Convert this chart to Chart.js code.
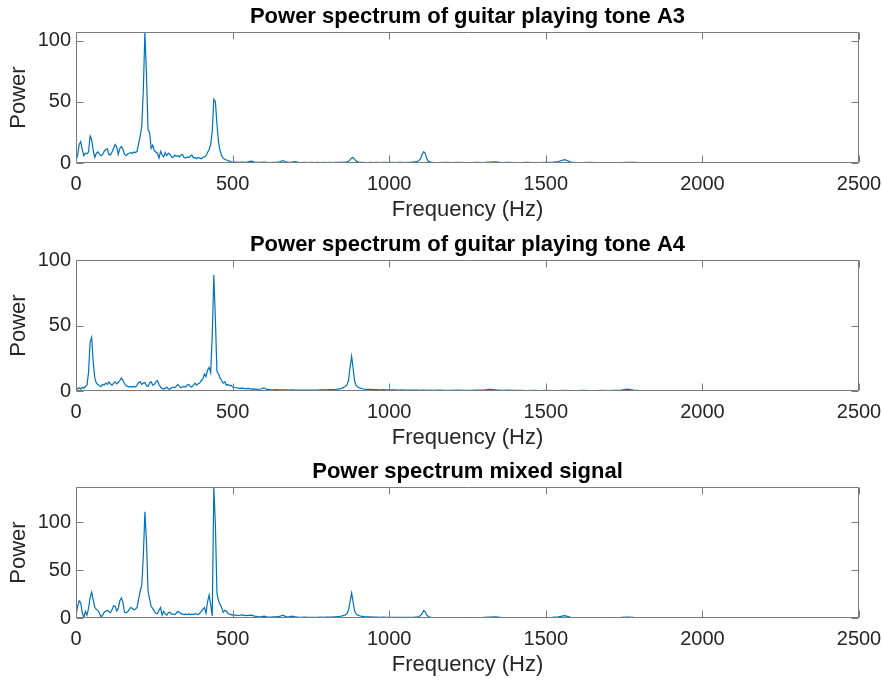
<!DOCTYPE html>
<html>
<head>
<meta charset="utf-8">
<title>Power spectra</title>
<script src="https://cdn.jsdelivr.net/npm/chart.js@4.4.1/dist/chart.umd.min.js"></script>
<style>
  html, body { margin: 0; padding: 0; background: #ffffff; overflow: hidden; }
  #fig { position: relative; width: 883px; height: 681px; }
  .panel { position: absolute; left: 0; width: 883px; height: 228px; }
  .panel canvas { display: block; }
</style>
</head>
<body>
<div id="fig">
  <div class="panel" style="top:0px"><canvas id="specA3" width="883" height="228"></canvas></div>
  <div class="panel" style="top:228px"><canvas id="specA4" width="883" height="228"></canvas></div>
  <div class="panel" style="top:455px"><canvas id="specMix" width="883" height="228"></canvas></div>
</div>
<script>
// Frequency bins (Hz) shared by the three spectra
const freqHz = [
  0,5,10,15,20,25,30,35,40,45,
  50,55,60,65,70,75,80,85,90,95,
  100,105,110,115,120,125,130,135,140,145,
  150,155,160,165,170,175,180,185,190,195,
  200,205,210,215,220,225,230,235,240,245,
  250,255,260,265,270,275,280,285,290,295,
  300,305,310,315,320,325,330,335,340,345,
  350,355,360,365,370,375,380,385,390,395,
  400,405,410,415,420,425,430,435,440,445,
  450,455,460,465,470,475,480,485,490,495,
  500,
  510,520,530,540,550,560,570,580,590,600,
  610,620,630,640,650,660,670,680,690,700,
  710,720,730,740,750,760,770,780,790,800,
  810,820,830,840,
  845,850,855,860,865,870,875,880,885,890,895,900,905,910,915,920,
  930,940,950,960,970,980,990,1000,1010,1020,1030,1040,1050,1060,1070,1080,
  1085,1090,1095,1100,1105,1110,1115,1120,1125,1130,1135,
  1140,1160,1180,1200,1220,1240,1260,1280,1300,1320,
  1340,1360,1380,1400,1420,1440,1460,1480,1500,1520,
  1540,1560,1580,1600,1620,1640,1660,1680,1700,1720,
  1740,1760,1780,1800,1820,1840,1860,1880,1900,1920,
  1940,1960,1980,2000,2020,2040,2060,2080,2100
];

// Guitar playing tone A3
const powerA3 = [
  2, 6, 15, 17.5, 11, 6, 8, 7.5, 9, 22,
  19, 10, 4.5, 8, 9, 7, 6, 7, 9.5, 11,
  11.5, 7, 6.5, 9, 12, 15, 13, 7, 12, 13.5,
  11, 7, 6, 7.5, 8, 8.5, 8, 9, 8.5, 9.5,
  16, 22, 30, 60, 107, 72, 27, 25, 12, 14.5,
  10, 9, 8, 4, 9.5, 6.5, 5, 8.5, 6, 8,
  7, 5, 4.5, 6.5, 5.5, 6, 5, 6.5, 7, 4.5,
  4, 5, 4.5, 5.5, 6.5, 4, 4.5, 3.5, 4.5, 4,
  3.5, 4.5, 5, 6, 8.5, 11, 15, 26, 52, 50,
  32, 17, 10, 6, 4, 3, 2.5, 2, 1.5, 1,
  0.8,
  0.7, 0.5, 0.8, 0.6, 0.9, 1.5, 0.8, 0.6, 0.5, 0.7,
  0.5, 0.4, 0.6, 0.5, 0.9, 2, 1, 0.6, 0.8, 1.2,
  0.6, 0.4, 0.5, 0.4, 0.5, 0.4, 0.6, 0.4, 0.5, 0.4,
  0.5, 0.4, 0.6, 0.5,
  0.6, 0.7, 0.6, 0.8, 0.9, 1.4, 2.5, 4, 4.5, 3, 1.5, 0.9, 0.6, 0.5, 0.6, 0.5,
  0.4, 0.5, 0.4, 0.6, 0.4, 0.5, 0.6, 0.4, 0.5, 0.4, 0.6, 0.5, 0.4, 0.6, 0.7, 0.9,
  1.1, 1.4, 2, 3.5, 7, 9.2, 8, 3.5, 1.5, 0.9, 0.6,
  0.5, 0.4, 0.5, 0.4, 0.5, 0.4, 0.4, 0.5, 0.4, 0.8,
  0.9, 0.4, 0.5, 0.4, 0.4, 0.5, 0.4, 0.4, 0.5, 0.5,
  1.2, 2.8, 0.8, 0.4, 0.4, 0.5, 0.4, 0.4, 0.3, 0.4,
  0.4, 0.6, 0.5, 0.3, 0.4, 0.3, 0.3, 0.4, 0.3, 0.3,
  0.3, 0.3, 0.4, 0.3, 0.3, 0.3, 0.3, 0.3, 0.3
];

// Guitar playing tone A4
const powerA4 = [
  2, 1.5, 2.5, 1.5, 3, 2, 3.5, 4.5, 14, 37,
  41, 22, 10, 6, 5, 4, 3.5, 5, 4.5, 6,
  5, 7, 5.5, 4.5, 6, 7, 5.5, 6.5, 8, 10,
  8, 5.5, 4, 3.5, 3, 3.5, 3, 3.5, 3, 4.5,
  6.5, 7, 5, 6, 6.5, 4, 3.5, 6, 7, 4.5,
  5, 7, 8, 5, 3, 2, 1.5, 2, 3, 1.5,
  1.5, 2.5, 3, 2.5, 3.5, 5, 3.5, 2.5, 3, 3.5,
  3, 4.5, 5, 3.5, 3, 4.5, 6, 4.5, 5.5, 6,
  8, 9, 13, 11, 16, 18, 14, 42, 88.5, 55,
  15, 13, 10, 8, 6, 7, 4.5, 5, 4, 4.5,
  3,
  2.5, 2, 2.2, 1.8, 2, 1.5, 1.6, 1.2, 1.5, 2.3,
  1.2, 1, 0.9, 1, 0.8, 0.9, 0.8, 0.7, 0.8, 0.7,
  0.6, 0.7, 0.6, 0.6, 0.7, 0.6, 0.7, 0.8, 0.8, 0.9,
  1, 1.1, 1.3, 1.6,
  1.8, 2.2, 2.8, 3.4, 4.5, 8, 18, 26.5, 17, 7, 4, 3, 2.4, 2, 1.7, 1.5,
  1.3, 1.2, 1.1, 1, 0.9, 1, 0.9, 0.8, 0.9, 0.8, 0.7, 0.8, 0.7, 0.6, 0.7, 0.6,
  0.6, 0.7, 0.6, 0.5, 0.6, 0.7, 0.6, 0.5, 0.6, 0.5, 0.6,
  0.5, 0.6, 0.5, 0.5, 0.6, 0.5, 0.5, 0.6, 0.7, 1.3,
  0.8, 0.5, 0.6, 0.5, 0.5, 0.4, 0.5, 0.4, 0.5, 0.4,
  0.4, 0.5, 0.4, 0.4, 0.5, 0.4, 0.4, 0.5, 0.4, 0.5,
  0.7, 1.4, 0.6, 0.4, 0.4, 0.3, 0.4, 0.3, 0.4, 0.3,
  0.3, 0.4, 0.3, 0.3, 0.3, 0.3, 0.3, 0.3, 0.3
];

// Mixed signal
const powerMix = [
  2, 12, 18, 16, 5.5, 0.5, 7, 3, 10, 21,
  27, 19, 11, 9, 8, 5, 1, 3, 6, 7,
  8, 6.5, 5.5, 8.5, 13, 12, 7.5, 10, 18, 21,
  16, 6, 5.5, 6.5, 9, 11, 10, 8.5, 9.5, 11,
  20, 28, 34, 65, 111, 80, 28, 20, 12, 10,
  7, 5, 4.5, 8, 11, 3, 7, 4, 3, 5.5,
  6, 4, 4, 3.5, 5, 7, 6, 4.5, 4, 3.5,
  4, 3.5, 4.5, 3.5, 4, 3.5, 4.5, 4, 3.5, 5,
  7, 9, 11, 5, 17, 24, 14, 2, 137, 98,
  26, 18, 14, 11, 6, 8, 7, 5, 4, 3.5,
  3,
  3, 2.6, 3.2, 2.5, 2.8, 3, 2, 1.5, 1.2, 2,
  1.2, 1, 1.1, 1.2, 1.6, 3, 1.5, 1.2, 2, 1.2,
  0.9, 0.8, 0.9, 0.7, 0.8, 0.7, 0.8, 0.9, 0.8, 0.9,
  1, 1.1, 1.3, 1.6,
  1.8, 2.2, 2.8, 3.4, 4.5, 8, 17, 26, 16, 7, 4, 3, 2.3, 1.9, 1.6, 1.4,
  1.2, 1.1, 1, 0.9, 0.8, 0.9, 0.8, 0.7, 0.8, 0.7, 0.6, 0.7, 0.6, 0.7, 0.8, 0.9,
  1, 1.2, 1.6, 2.5, 4.5, 7.8, 6.5, 3, 1.5, 0.9, 0.6,
  0.5, 0.5, 0.4, 0.5, 0.4, 0.5, 0.4, 0.5, 0.6, 1,
  1.1, 0.5, 0.4, 0.5, 0.4, 0.4, 0.5, 0.4, 0.5, 0.6,
  1.2, 2.5, 0.8, 0.4, 0.4, 0.5, 0.4, 0.4, 0.4, 0.5,
  0.6, 1, 0.6, 0.4, 0.3, 0.4, 0.3, 0.3, 0.4, 0.3,
  0.3, 0.3, 0.3, 0.3, 0.3, 0.3, 0.3, 0.3, 0.3
];

const panelTitles = [
  'Power spectrum of guitar playing tone A3',
  'Power spectrum of guitar playing tone A4',
  'Power spectrum mixed signal'
];
const yLimits = [107, 100, 137];
const xLimit = 2500;
const xTickStep = 500;
const yTickStep = 50;
const xAxisLabel = 'Frequency (Hz)';
const yAxisLabel = 'Power';

const FONT = '"Liberation Sans", Arial, Helvetica, sans-serif';
const LINE_COLOR = '#0072BD';
const AXIS_COLOR = '#7a7a7a';
const TEXT_COLOR = '#262626';
const TICK_LEN = 7;
const CANVAS_H = 228;
const PLOT_TOP = 32;
const PLOT_BOTTOM = 163;
const PLOT_LEFT = 76;
const RIGHT_MARGIN = 24;

// Box around the axes with inward tick marks on all four sides
const boxedAxes = {
  id: 'boxedAxes',
  afterDatasetsDraw(chart) {
    const { ctx, chartArea: a, scales: { x, y } } = chart;
    const L = Math.round(a.left) + 0.5, R = Math.round(a.right) - 0.5;
    const T = Math.round(a.top) + 0.5, B = Math.round(a.bottom) - 0.5;
    ctx.save();
    ctx.strokeStyle = AXIS_COLOR;
    ctx.lineWidth = 1;
    ctx.beginPath();
    ctx.rect(L, T, R - L, B - T);
    x.ticks.forEach(t => {
      const px = Math.round(x.getPixelForValue(t.value)) + 0.5;
      ctx.moveTo(px, B); ctx.lineTo(px, B - TICK_LEN);
      ctx.moveTo(px, T); ctx.lineTo(px, T + TICK_LEN);
    });
    y.ticks.forEach(t => {
      const py = Math.round(y.getPixelForValue(t.value)) + 0.5;
      ctx.moveTo(L, py); ctx.lineTo(L + TICK_LEN, py);
      ctx.moveTo(R, py); ctx.lineTo(R - TICK_LEN, py);
    });
    ctx.stroke();
    ctx.restore();
  }
};

// Bold title centred over the plot box
const axesTitle = {
  id: 'axesTitle',
  afterDraw(chart, args, opts) {
    const { ctx, chartArea: a } = chart;
    ctx.save();
    ctx.font = 'bold 22px ' + FONT;
    ctx.fillStyle = '#000000';
    ctx.textAlign = 'center';
    ctx.textBaseline = 'alphabetic';
    ctx.fillText(opts.text, (a.left + a.right) / 2, a.top - 9);
    ctx.restore();
  }
};

const plainNumber = v => String(v);

function makeSpectrum(canvasId, title, power, yMax) {
  const points = freqHz.map((f, i) => ({ x: f, y: power[i] }));
  return new Chart(document.getElementById(canvasId), {
    type: 'line',
    data: {
      datasets: [{
        data: points,
        borderColor: LINE_COLOR,
        borderWidth: 1.2,
        pointRadius: 0,
        tension: 0,
        fill: false
      }]
    },
    options: {
      responsive: false,
      animation: false,
      parsing: false,
      layout: { padding: { left: 0, right: RIGHT_MARGIN, top: PLOT_TOP, bottom: 0 } },
      plugins: {
        legend: { display: false },
        tooltip: { enabled: false },
        title: { display: false },
        axesTitle: { text: title }
      },
      scales: {
        x: {
          type: 'linear',
          min: 0,
          max: xLimit,
          grid: { display: false, drawTicks: false },
          border: { display: false },
          ticks: {
            stepSize: xTickStep,
            includeBounds: false,
            color: TEXT_COLOR,
            font: { family: FONT, size: 20 },
            padding: 9,
            maxRotation: 0,
            callback: plainNumber
          },
          title: {
            display: true,
            text: xAxisLabel,
            color: TEXT_COLOR,
            font: { family: FONT, size: 22, lineHeight: 1.2 },
            padding: { top: 0, bottom: 5 }
          },
          afterFit(s) {
            s.height = CANVAS_H - PLOT_BOTTOM;
            s.paddingLeft = 0;
            s.paddingRight = 0;
          }
        },
        y: {
          type: 'linear',
          min: 0,
          max: yMax,
          grid: { display: false, drawTicks: false },
          border: { display: false },
          ticks: {
            stepSize: yTickStep,
            includeBounds: false,
            color: TEXT_COLOR,
            font: { family: FONT, size: 20 },
            padding: 5,
            callback: plainNumber
          },
          afterBuildTicks(s) { s.ticks = s.ticks.filter(t => t.value % yTickStep === 0); },
          title: {
            display: true,
            text: yAxisLabel,
            color: TEXT_COLOR,
            font: { family: FONT, size: 22, lineHeight: 1.2 },
            padding: { top: 6, bottom: 0 }
          },
          afterFit(s) {
            s.width = PLOT_LEFT;
            s.paddingTop = 0;
            s.paddingBottom = 0;
          }
        }
      }
    },
    plugins: [boxedAxes, axesTitle]
  });
}

makeSpectrum('specA3', panelTitles[0], powerA3, yLimits[0]);
makeSpectrum('specA4', panelTitles[1], powerA4, yLimits[1]);
makeSpectrum('specMix', panelTitles[2], powerMix, yLimits[2]);
</script>
</body>
</html>
